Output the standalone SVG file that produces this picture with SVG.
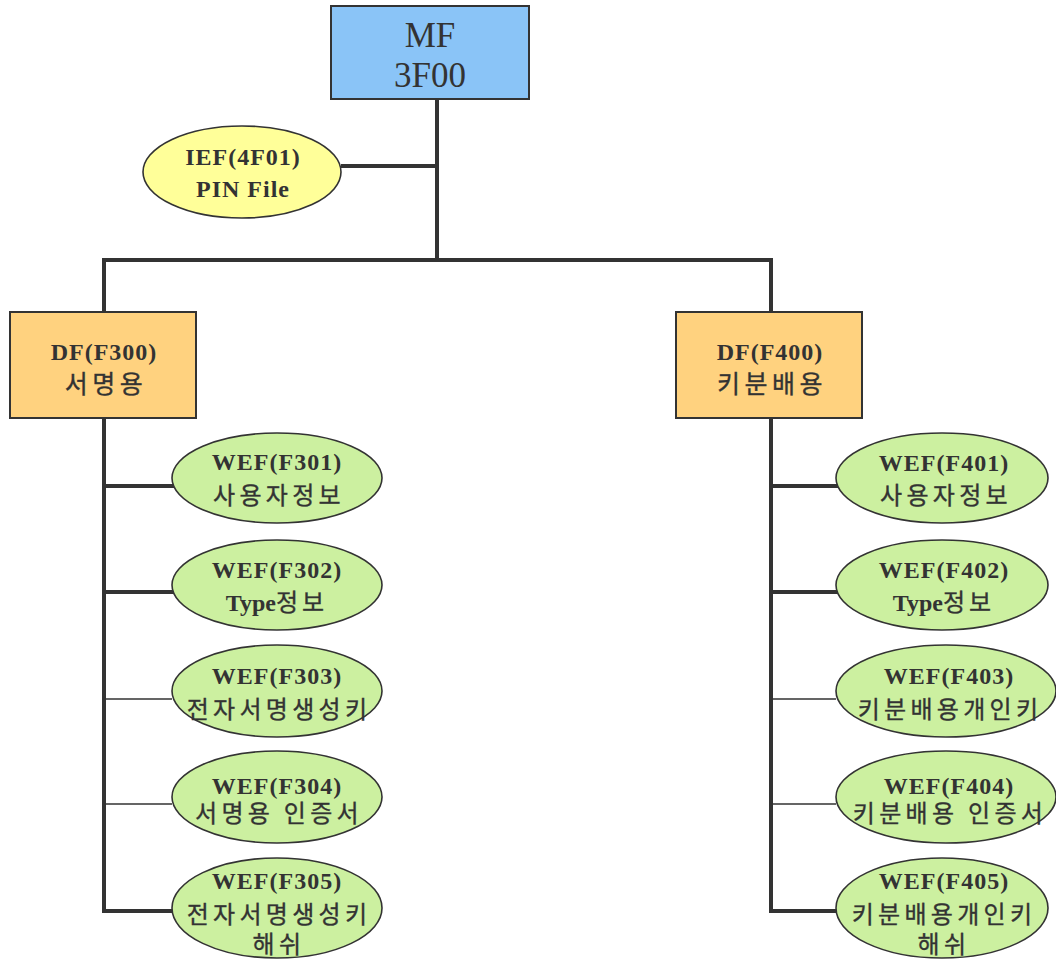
<svg xmlns="http://www.w3.org/2000/svg" width="1056" height="959" viewBox="0 0 1056 959">
<style>
.thick{stroke:#333;stroke-width:4;fill:none;stroke-linecap:square}
.thin{stroke:#333;stroke-width:1.5;fill:none}
.box{stroke:#333;stroke-width:2}
.ell{stroke:#333;stroke-width:1.6}
.mf{fill:#8AC4F7}
.ief{fill:#FFFF99}
.df{fill:#FFD27F}
.wef{fill:#CCF0A0}
.lat{font-family:"Liberation Serif",serif;font-weight:bold;font-size:24px;letter-spacing:1px;fill:#333;text-anchor:middle}
.big{font-family:"Liberation Serif",serif;font-size:35px;fill:#333;text-anchor:middle}
.kr{font-family:"Noto Sans CJK KR",sans-serif;font-size:24px;letter-spacing:4.3px;fill:#333;stroke:#333;stroke-width:0.35;text-anchor:middle}
.krd{font-family:"Noto Sans CJK KR",sans-serif;font-size:25px;letter-spacing:4.5px;fill:#333;stroke:#333;stroke-width:0.35;text-anchor:middle}
</style>
<g id="connectors">
<path class="thick" d="M437 99V260M343 166H437M104 260H771M104 260V312M771 260V312"/>
<path class="thick" d="M104 418V911H172M104 486H172M104 592H172"/>
<path class="thin" d="M104 699H172M104 804H172"/>
<path class="thick" d="M771 418V911H836M771 486H836M771 592H836"/>
<path class="thin" d="M771 699H836M771 804H836"/>
</g>
<g id="MF">
<rect class="box mf" x="331" y="6" width="198" height="93"/>
<text class="big" x="430" y="47">MF</text>
<text class="big" x="430" y="87">3F00</text>
</g>
<g id="IEF4F01">
<ellipse class="ell ief" cx="242" cy="172" rx="99" ry="46"/>
<text class="lat" x="243" y="165">IEF(4F01)</text>
<text class="lat" x="243" y="197">PIN File</text>
</g>
<g id="DFF300">
<rect class="box df" x="10" y="312" width="186" height="106"/>
<text class="lat" x="104" y="360">DF(F300)</text>
<text class="krd" x="106" y="393">서명용</text>
</g>
<g id="DFF400">
<rect class="box df" x="676" y="312" width="186" height="106"/>
<text class="lat" x="770" y="360">DF(F400)</text>
<text class="krd" x="772" y="393">키분배용</text>
</g>
<g id="WEFF301">
<ellipse class="ell wef" cx="277" cy="478" rx="105" ry="45"/>
<text class="lat" x="277" y="470">WEF(F301)</text>
<text class="kr" x="279" y="504">사용자정보</text>
</g>
<g id="WEFF302">
<ellipse class="ell wef" cx="277" cy="585" rx="105" ry="45"/>
<text class="lat" x="277" y="578">WEF(F302)</text>
<text class="lat" x="277" y="611" style="letter-spacing:0">Type<tspan font-family="Noto Sans CJK KR, sans-serif" font-weight="normal" font-size="24" letter-spacing="4" stroke="#333" stroke-width="0.35">정보</tspan></text>
</g>
<g id="WEFF303">
<ellipse class="ell wef" cx="277" cy="691" rx="105" ry="46"/>
<text class="lat" x="277" y="684">WEF(F303)</text>
<text class="kr" x="279" y="718">전자서명생성키</text>
</g>
<g id="WEFF304">
<ellipse class="ell wef" cx="277" cy="797" rx="105" ry="46"/>
<text class="lat" x="277" y="794">WEF(F304)</text>
<text class="kr" x="279" y="822">서명용 인증서</text>
</g>
<g id="WEFF305">
<ellipse class="ell wef" cx="277" cy="908" rx="105" ry="50"/>
<text class="lat" x="277" y="889">WEF(F305)</text>
<text class="kr" x="279" y="923">전자서명생성키</text>
<text class="kr" x="279" y="953">해쉬</text>
</g>
<g id="WEFF401">
<ellipse class="ell wef" cx="942" cy="478" rx="106" ry="45"/>
<text class="lat" x="944" y="471">WEF(F401)</text>
<text class="kr" x="946" y="504">사용자정보</text>
</g>
<g id="WEFF402">
<ellipse class="ell wef" cx="942" cy="585" rx="106" ry="45"/>
<text class="lat" x="944" y="578">WEF(F402)</text>
<text class="lat" x="944" y="611" style="letter-spacing:0">Type<tspan font-family="Noto Sans CJK KR, sans-serif" font-weight="normal" font-size="24" letter-spacing="4" stroke="#333" stroke-width="0.35">정보</tspan></text>
</g>
<g id="WEFF403">
<ellipse class="ell wef" cx="946" cy="691" rx="110" ry="46"/>
<text class="lat" x="949" y="684">WEF(F403)</text>
<text class="kr" x="950" y="718">키분배용개인키</text>
</g>
<g id="WEFF404">
<ellipse class="ell wef" cx="946" cy="797" rx="110" ry="46"/>
<text class="lat" x="949" y="794">WEF(F404)</text>
<text class="kr" x="950" y="822">키분배용 인증서</text>
</g>
<g id="WEFF405">
<ellipse class="ell wef" cx="942" cy="908" rx="106" ry="50"/>
<text class="lat" x="944" y="889">WEF(F405)</text>
<text class="kr" x="944" y="923">키분배용개인키</text>
<text class="kr" x="944" y="953">해쉬</text>
</g>
</svg>
